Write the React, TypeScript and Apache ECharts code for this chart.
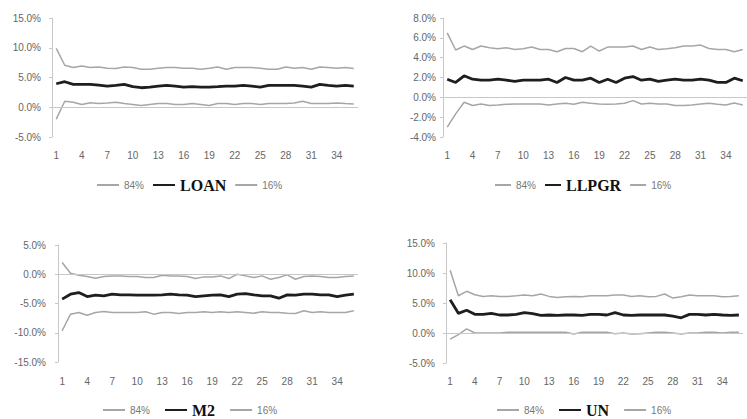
import React, { useEffect, useRef } from 'react';
import * as echarts from 'echarts';

const periods = ['1','2','3','4','5','6','7','8','9','10','11','12','13','14','15','16','17','18','19','20','21','22','23','24','25','26','27','28','29','30','31','32','33','34','35','36'];

const loanUpper = [9.9,7.06,6.67,6.95,6.67,6.78,6.55,6.5,6.78,6.67,6.38,6.38,6.55,6.67,6.67,6.55,6.55,6.38,6.55,6.78,6.38,6.67,6.67,6.67,6.55,6.38,6.38,6.78,6.55,6.67,6.38,6.78,6.67,6.55,6.67,6.5];
const loanMedian = [3.95,4.29,3.84,3.84,3.84,3.73,3.56,3.67,3.84,3.45,3.28,3.39,3.56,3.67,3.56,3.39,3.45,3.39,3.39,3.45,3.56,3.56,3.67,3.56,3.39,3.67,3.67,3.67,3.67,3.56,3.39,3.84,3.67,3.56,3.67,3.56];
const loanLower = [-2.0,1.0,0.85,0.45,0.75,0.62,0.73,0.85,0.62,0.45,0.28,0.45,0.62,0.62,0.45,0.45,0.62,0.45,0.28,0.62,0.62,0.45,0.62,0.62,0.45,0.62,0.62,0.62,0.73,1.0,0.62,0.62,0.62,0.73,0.62,0.56];

const llpgrUpper = [6.5,4.77,5.17,4.83,5.17,5.0,4.9,5.0,4.83,4.9,5.07,4.83,4.83,4.6,4.93,4.93,4.6,5.17,4.67,5.07,5.07,5.07,5.17,4.83,5.07,4.83,4.9,5.0,5.17,5.17,5.27,4.93,4.83,4.83,4.6,4.83];
const llpgrMedian = [1.83,1.5,2.17,1.83,1.73,1.73,1.83,1.73,1.6,1.73,1.73,1.73,1.83,1.5,2.0,1.73,1.73,1.93,1.5,1.83,1.5,1.93,2.1,1.73,1.83,1.6,1.73,1.83,1.73,1.73,1.83,1.73,1.5,1.5,1.93,1.67];
const llpgrLower = [-3.0,-1.67,-0.5,-0.83,-0.67,-0.83,-0.77,-0.7,-0.67,-0.67,-0.67,-0.67,-0.77,-0.67,-0.6,-0.7,-0.5,-0.6,-0.67,-0.7,-0.67,-0.6,-0.33,-0.67,-0.6,-0.67,-0.67,-0.83,-0.83,-0.77,-0.67,-0.6,-0.7,-0.77,-0.57,-0.77];

const m2Upper = [2.0,0.17,-0.17,-0.4,-0.68,-0.4,-0.28,-0.28,-0.4,-0.4,-0.57,-0.57,-0.17,-0.28,-0.28,-0.4,-0.74,-0.45,-0.45,-0.28,-0.74,0.0,-0.28,-0.57,-0.28,-0.85,-0.57,-0.11,-0.85,-0.4,-0.28,-0.4,-0.57,-0.57,-0.4,-0.28];
const m2Median = [-4.26,-3.41,-3.13,-3.81,-3.58,-3.69,-3.41,-3.52,-3.52,-3.58,-3.58,-3.58,-3.52,-3.41,-3.52,-3.58,-3.81,-3.69,-3.58,-3.52,-3.81,-3.41,-3.3,-3.52,-3.69,-3.69,-4.09,-3.52,-3.58,-3.41,-3.41,-3.52,-3.52,-3.81,-3.58,-3.41];
const m2Lower = [-9.66,-6.82,-6.53,-7.0,-6.53,-6.36,-6.53,-6.53,-6.53,-6.53,-6.42,-6.82,-6.53,-6.53,-6.7,-6.53,-6.53,-6.42,-6.53,-6.42,-6.53,-6.42,-6.53,-6.65,-6.42,-6.53,-6.53,-6.65,-6.7,-6.25,-6.53,-6.42,-6.53,-6.53,-6.53,-6.25];

const unUpper = [10.45,6.21,6.95,6.38,6.1,6.21,6.1,6.1,6.21,6.33,6.21,6.5,6.1,5.93,6.05,6.1,6.05,6.21,6.21,6.21,6.33,6.33,6.1,6.21,6.05,6.1,6.5,5.82,6.05,6.33,6.21,6.21,6.21,6.05,6.1,6.21];
const unMedian = [5.54,3.28,3.79,3.11,3.11,3.28,3.0,3.0,3.11,3.39,3.22,2.94,3.0,2.94,3.0,3.0,2.94,3.11,3.11,3.0,3.39,3.0,2.94,3.0,3.0,3.0,3.0,2.82,2.54,3.11,3.11,3.0,3.11,3.0,2.94,3.0];
const unLower = [-1.02,-0.28,0.68,0.0,0.0,0.0,0.0,0.11,0.11,0.11,0.11,0.11,0.11,0.11,0.11,-0.17,0.11,0.11,0.11,0.11,-0.11,0.0,-0.17,-0.11,0.0,0.11,0.11,0.0,-0.17,0.0,0.0,0.11,0.11,0.0,0.11,0.11];

const panelNames = ['LOAN', 'LLPGR', 'M2', 'UN'];
const yMins = [-5, -4, -15, -5];
const yMaxs = [15, 8, 5, 15];
const yIntervals = [5, 2, 5, 5];

const GRAY = '#a6a6a6';
const DARK = '#1e1e1e';
const LABEL = '#666666';

export default function App() {
  const ref = useRef<HTMLDivElement>(null);
  useEffect(() => {
    if (!ref.current) return;
    const chart = echarts.init(ref.current, null, { renderer: 'svg' });
    const uppers = [loanUpper, llpgrUpper, m2Upper, unUpper];
    const medians = [loanMedian, llpgrMedian, m2Median, unMedian];
    const lowers = [loanLower, llpgrLower, m2Lower, unLower];
    const grids = [
      { left: 52, top: 18, width: 306, height: 119 },
      { left: 443, top: 18, width: 305, height: 119 },
      { left: 58, top: 245, width: 300, height: 117 },
      { left: 446, top: 243, width: 297, height: 120 },
    ];
    const yLabelMargins = [11, 7, 12, 11];
    const xLabelMargins = [13, 13, 14, 13];
    const legendPos = [
      { left: 96, top: 177, itemWidth: 22, itemGap: 8 },
      { left: 494, top: 177, itemWidth: 16, itemGap: 8 },
      { left: 102, top: 402, itemWidth: 22, itemGap: 14 },
      { left: 496, top: 402, itemWidth: 22, itemGap: 14 },
    ];
    const xAxis: any[] = [];
    const yAxis: any[] = [];
    const series: any[] = [];
    const legend: any[] = [];
    for (let i = 0; i < 4; i++) {
      xAxis.push({
        type: 'category', gridIndex: i, data: periods, boundaryGap: true,
        axisLine: { show: false }, axisTick: { show: false },
        axisLabel: { interval: 2, color: LABEL, fontSize: 10, fontFamily: 'Liberation Sans', margin: xLabelMargins[i] },
        splitLine: { show: false },
      });
      yAxis.push({
        type: 'value', gridIndex: i, min: yMins[i], max: yMaxs[i], interval: yIntervals[i],
        axisLine: { show: true, lineStyle: { color: '#c8c8c8', width: 1 } },
        axisTick: { show: true, length: 3, lineStyle: { color: '#c8c8c8' } },
        splitLine: { show: false },
        axisLabel: { color: LABEL, fontSize: 10, fontFamily: 'Liberation Sans', margin: yLabelMargins[i], formatter: (v: number) => v.toFixed(1) + '%' },
      });
      series.push({
        name: '84%', type: 'line', xAxisIndex: i, yAxisIndex: i, data: uppers[i], symbol: 'none',
        lineStyle: { color: GRAY, width: 1.5 }, itemStyle: { color: GRAY },
        markLine: { silent: true, symbol: 'none', label: { show: false }, lineStyle: { color: '#c8c8c8', width: 1, type: 'solid' }, data: [{ yAxis: 0 }] },
      });
      series.push({
        name: panelNames[i], type: 'line', xAxisIndex: i, yAxisIndex: i, data: medians[i], symbol: 'none',
        lineStyle: { color: DARK, width: 2.8 }, itemStyle: { color: DARK }, z: 3,
      });
      series.push({
        name: '16%', type: 'line', xAxisIndex: i, yAxisIndex: i, data: lowers[i], symbol: 'none',
        lineStyle: { color: GRAY, width: 1.5 }, itemStyle: { color: GRAY },
      });
      const hidden = { opacity: 0 };
      legend.push({
        left: legendPos[i].left, top: legendPos[i].top, itemWidth: legendPos[i].itemWidth, itemHeight: 10,
        itemGap: legendPos[i].itemGap, selectedMode: false, padding: 0,
        itemStyle: hidden,
        data: [
          { name: '84%', itemStyle: hidden, textStyle: { color: '#777777', fontSize: 10, fontFamily: 'Liberation Sans' } },
          { name: panelNames[i], itemStyle: hidden, textStyle: { color: '#111111', fontSize: 16, fontWeight: 'bold', fontFamily: 'Liberation Serif' } },
          { name: '16%', itemStyle: hidden, textStyle: { color: '#777777', fontSize: 10, fontFamily: 'Liberation Sans' } },
        ],
      });
    }
    chart.setOption({
      animation: false,
      backgroundColor: '#ffffff',
      grid: grids,
      xAxis, yAxis, series, legend,
    });
    return () => chart.dispose();
  }, []);
  return <div ref={ref} style={{ position: 'fixed', left: 0, top: 0, width: 747, height: 419, background: '#fff' }} />;
}
